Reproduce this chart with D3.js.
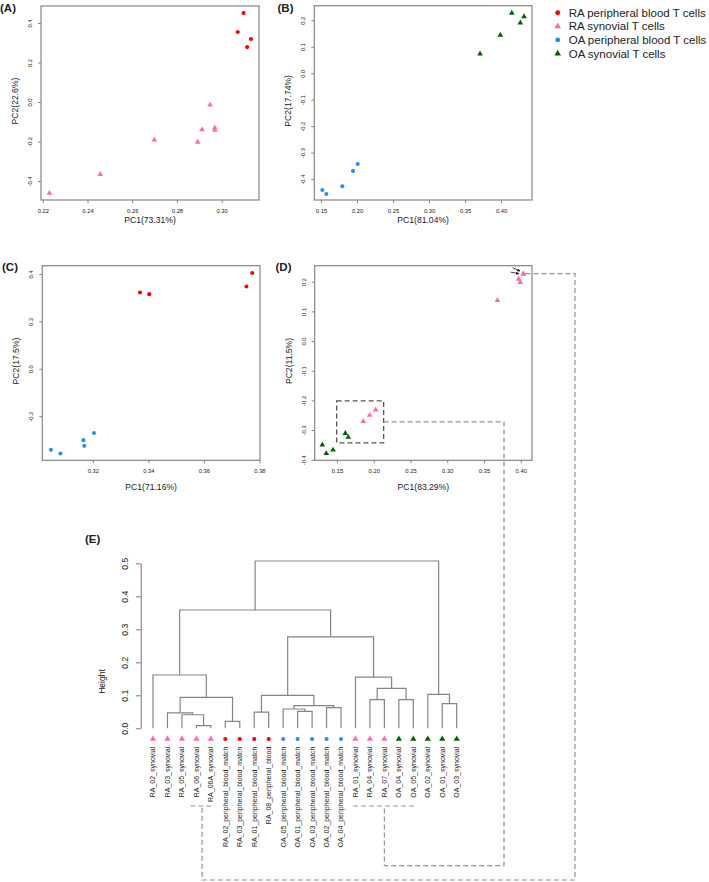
<!DOCTYPE html>
<html><head><meta charset="utf-8">
<script src="https://cdn.jsdelivr.net/npm/d3@7"></script>
<style>
html,body{margin:0;padding:0;background:#fff;}
svg text{font-family:"Liberation Sans",Arial,Helvetica,sans-serif;fill:#222;}
</style></head><body>
<svg id="chart" width="709" height="882"></svg>
<script>
// ---------- groups / legend ----------
const groupLabels = ["RA peripheral blood T cells","RA synovial T cells","OA peripheral blood T cells","OA synovial T cells"];
const groupColors = ["#ff0000","#ff69b4","#1e90ff","#006400"];
const groupShapes = ["circle","triangle","circle","triangle"];

// ---------- panel A ----------
const aPC1 = [0.3098,0.3072,0.3131,0.3114, 0.2230,0.2457,0.2699,0.2893,0.2912,0.2948,0.2969,0.2969];
const aPC2 = [0.451,0.354,0.319,0.278, -0.461,-0.366,-0.191,-0.2025,-0.140,-0.015,-0.130,-0.142];
const aGroup = [0,0,0,0, 1,1,1,1,1,1,1,1];
const aXTicks = [0.22,0.24,0.26,0.28,0.30];
const aYTicks = [-0.4,-0.2,0.0,0.2,0.4];

// ---------- panel B ----------
const bPC1 = [0.1518,0.1574,0.1796,0.1944,0.2010, 0.4149,0.4319,0.4268,0.3990,0.3708];
const bPC2 = [-0.441,-0.456,-0.427,-0.369,-0.343, 0.227,0.214,0.190,0.144,0.073];
const bGroup = [2,2,2,2,2, 3,3,3,3,3];
const bXTicks = [0.15,0.20,0.25,0.30,0.35,0.40];
const bYTicks = [-0.4,-0.3,-0.2,-0.1,0.0,0.1,0.2];

// ---------- panel C ----------
const cPC1 = [0.3370,0.3403,0.3753,0.3774, 0.3049,0.3083,0.3166,0.3169,0.3204];
const cPC2 = [0.322,0.315,0.347,0.404, -0.342,-0.357,-0.301,-0.325,-0.271];
const cGroup = [0,0,0,0, 2,2,2,2,2];
const cXTicks = [0.32,0.34,0.36,0.38];
const cYTicks = [-0.2,0.0,0.2,0.4];

// ---------- panel D ----------
const dPC1 = [0.1300,0.1354,0.1446,0.1613,0.1654, 0.1858,0.1945,0.2027,0.4035,0.4036,0.3970,0.3993,0.3683];
const dPC2 = [-0.350,-0.379,-0.367,-0.311,-0.324, -0.271,-0.250,-0.232,0.227,0.226,0.209,0.198,0.137];
const dGroup = [3,3,3,3,3, 1,1,1,1,1,1,1,1];
const dXTicks = [0.15,0.20,0.25,0.30,0.35,0.40];
const dYTicks = [-0.4,-0.3,-0.2,-0.1,0.0,0.1,0.2];

// ---------- panel E (dendrogram) ----------
const leafLabels = ["RA_02_synovial","RA_03_synovial","RA_05_synovial","RA_06_synovial","RA_06A_synovial",
  "RA_02_peripheral_blood_match","RA_03_peripheral_blood_match","RA_01_peripheral_blood_match","RA_08_peripheral_blood",
  "OA_05_peripheral_blood_match","OA_01_peripheral_blood_match","OA_03_peripheral_blood_match","OA_02_peripheral_blood_match","OA_04_peripheral_blood_match",
  "RA_01_synovial","RA_04_synovial","RA_07_synovial","OA_04_synovial","OA_05_synovial","OA_02_synovial","OA_01_synovial","OA_03_synovial"];
const leafGroups = [1,1,1,1,1, 0,0,0,0, 2,2,2,2,2, 1,1,1, 3,3,3,3,3];
// R hclust style: negative = leaf (1-based, in plotted order), positive = earlier merge (1-based)
const mergePairs = [[-4,-5],[-6,-7],[-3,1],[-2,3],[-8,-9],[-11,-12],[-10,6],[-13,-14],[7,8],[-21,-22],
  [-16,-17],[-18,-19],[4,2],[5,9],[-20,10],[11,12],[-15,16],[-1,13],[14,17],[18,19],[20,15]];
const mergeHeights = [0.008,0.021,0.041,0.047,0.049,0.0515,0.0585,0.0625,0.0685,0.0746,
  0.0867,0.0867,0.094,0.100,0.103,0.121,0.155,0.1615,0.2772,0.3585,0.507];
const heightTicks = [0.0,0.1,0.2,0.3,0.4,0.5];

// ================= drawing =================
const svg = d3.select("#chart");
svg.append("rect").attr("width",709).attr("height",882).attr("fill","#fff");
const defs = svg.append("defs");
defs.append("marker").attr("id","ah").attr("viewBox","0 0 10 10").attr("refX",9).attr("refY",5)
  .attr("markerWidth",4).attr("markerHeight",4).attr("orient","auto")
  .append("path").attr("d","M0,0L10,5L0,10z").attr("fill","#111");

const LINE = "#858585";

function symbolPath(g, size){
  return d3.symbol().type(groupShapes[g]==="circle" ? d3.symbolCircle : d3.symbolTriangle).size(size)();
}

const panels = [
  {tag:"(A)", tagX:0, tagY:11.5, box:{l:41,r:259,t:6,b:200}, xd:[0.2192,0.3167], yd:[-0.496,0.486],
   xt:aXTicks, yt:aYTicks, xf:".2f", yf:".1f", xl:"PC1(73.31%)", yl:"PC2(22.6%)", xlOff:19.5,
   px:aPC1, py:aPC2, pg:aGroup},
  {tag:"(B)", tagX:277.5, tagY:11.5, box:{l:314.3,r:532,t:5.7,b:200}, xd:[0.1407,0.443], yd:[-0.479,0.255],
   xt:bXTicks, yt:bYTicks, xf:".2f", yf:".1f", xl:"PC1(81.04%)", yl:"PC2(17.74%)", xlOff:19.5,
   px:bPC1, py:bPC2, pg:bGroup},
  {tag:"(C)", tagX:2, tagY:271, box:{l:42.3,r:260,t:265.7,b:460.3}, xd:[0.3018,0.3802], yd:[-0.386,0.435],
   xt:cXTicks, yt:cYTicks, xf:".2f", yf:".1f", xl:"PC1(71.16%)", yl:"PC2(17.5%)", xlOff:27,
   px:cPC1, py:cPC2, pg:cGroup},
  {tag:"(D)", tagX:275.5, tagY:271, box:{l:314.7,r:532,t:265.7,b:460.3}, xd:[0.1197,0.4153], yd:[-0.402,0.254],
   xt:dXTicks, yt:dYTicks, xf:".2f", yf:".1f", xl:"PC1(83.29%)", yl:"PC2(11.5%)", xlOff:27,
   px:dPC1, py:dPC2, pg:dGroup}
];

const fmtMinus = f => v => d3.format(f)(v).replace("−","-");

panels.forEach(p => {
  const b = p.box;
  const x = d3.scaleLinear().domain(p.xd).range([b.l,b.r]);
  const y = d3.scaleLinear().domain(p.yd).range([b.b,b.t]);
  p.x = x; p.y = y;
  const g = svg.append("g");
  // box
  g.append("rect").attr("x",b.l).attr("y",b.t).attr("width",b.r-b.l).attr("height",b.b-b.t)
    .attr("fill","none").attr("stroke",LINE).attr("stroke-width",1.2);
  // x axis
  const xa = g.append("g").attr("transform",`translate(0,${b.b})`)
    .call(d3.axisBottom(x).tickValues(p.xt).tickSize(3).tickSizeOuter(0).tickFormat(fmtMinus(p.xf)));
  xa.select(".domain").remove();
  xa.selectAll("line").attr("stroke",LINE);
  xa.selectAll("text").attr("y",11).attr("dy","0.35em").attr("font-size","5.8px").attr("fill","#333");
  // y axis
  const ya = g.append("g").attr("transform",`translate(${b.l},0)`)
    .call(d3.axisLeft(y).tickValues(p.yt).tickSize(3).tickSizeOuter(0).tickFormat(fmtMinus(p.yf)));
  ya.select(".domain").remove();
  ya.selectAll("line").attr("stroke",LINE);
  ya.selectAll("text").attr("x",0).attr("y",-11).attr("dy","0.35em").attr("text-anchor","middle")
    .attr("transform","rotate(-90)").attr("font-size","5.8px").attr("fill","#333");
  // titles
  g.append("text").attr("x",(b.l+b.r)/2).attr("y",b.b+p.xlOff).attr("dy","0.35em")
    .attr("text-anchor","middle").attr("font-size","8.6px").text(p.xl);
  g.append("text").attr("transform",`translate(${b.l-26},${(b.t+b.b)/2-2}) rotate(-90)`)
    .attr("dy","0.35em").attr("text-anchor","middle").attr("font-size","8.6px").text(p.yl);
  g.append("text").attr("x",p.tagX).attr("y",p.tagY).attr("font-size","11.5px").attr("font-weight","bold")
    .attr("fill","#111").text(p.tag);
  // points
  g.selectAll("path.pt").data(p.px.map((v,i)=>({x:v,y:p.py[i],g:p.pg[i]}))).join("path")
    .attr("class","pt")
    .attr("transform",d=>`translate(${x(d.x)},${y(d.y)})`)
    .attr("d",d=>symbolPath(d.g, groupShapes[d.g]==="circle"?13:14))
    .attr("fill",d=>groupColors[d.g]);
});

// legend
const lg = svg.append("g");
groupLabels.forEach((lab,i)=>{
  const yy = 12.7 + i*13.6;
  lg.append("path").attr("transform",`translate(557.7,${yy})`).attr("d",symbolPath(i,19)).attr("fill",groupColors[i]);
  lg.append("text").attr("x",568.7).attr("y",yy).attr("dy","0.35em").attr("font-size","11.5px").attr("fill","#333").text(lab);
});

// ---------- dendrogram ----------
const eX = d3.scalePoint().domain(leafLabels).range([153,456.7]);
const eY = d3.scaleLinear().domain([0,0.5]).range([728.3,563.3]);
const eg = svg.append("g");
const ea = eg.append("g").attr("transform","translate(140.7,0)")
  .call(d3.axisLeft(eY).tickValues(heightTicks).tickSize(4.7).tickSizeOuter(0).tickFormat(d3.format(".1f")));
ea.select(".domain").attr("stroke",LINE).attr("stroke-width",1.1);
ea.selectAll("line").attr("stroke",LINE).attr("stroke-width",1.1);
ea.selectAll("text").attr("x",0).attr("y",-15.7).attr("dy","0.35em").attr("text-anchor","middle")
  .attr("transform","rotate(-90)").attr("font-size","8.6px").attr("fill","#333");
eg.append("text").attr("transform","translate(102,681.5) rotate(-90)").attr("dy","0.35em")
  .attr("text-anchor","middle").attr("font-size","8.5px").text("Height");
eg.append("text").attr("x",85).attr("y",542.5).attr("font-size","11.5px").attr("font-weight","bold").attr("fill","#111").text("(E)");

const nodes = [];
const posOf = k => k<0 ? {x:eX(leafLabels[-k-1]), h:0} : nodes[k-1];
mergePairs.forEach((pr,i)=>{
  const a = posOf(pr[0]), c = posOf(pr[1]), h = mergeHeights[i];
  eg.append("path")
    .attr("d",`M${a.x},${eY(a.h)}V${eY(h)}H${c.x}V${eY(c.h)}`)
    .attr("fill","none").attr("stroke",LINE).attr("stroke-width",1.2);
  nodes.push({x:(a.x+c.x)/2, h});
});
leafLabels.forEach((lab,i)=>{
  const lx = eX(lab);
  eg.append("path").attr("transform",`translate(${lx},739)`)
    .attr("d",symbolPath(leafGroups[i], groupShapes[leafGroups[i]]==="circle"?14:17)).attr("fill",groupColors[leafGroups[i]]);
  eg.append("text").attr("transform",`translate(${lx},746.7) rotate(-90)`).attr("dy","0.35em")
    .attr("text-anchor","end").attr("font-size","7px").attr("fill","#333").text(lab);
});

// ---------- annotations (dashed connectors) ----------
const D = panels[3];
const ann = svg.append("g").attr("fill","none");
const DASH = "5,3", CONN = "#9d918b";
// dashed box around the cluster in D
const bx0 = D.x(0.1496), bx1 = D.x(0.2135), by0 = D.y(-0.202), by1 = D.y(-0.343);
ann.append("rect").attr("x",bx0).attr("y",by0).attr("width",bx1-bx0).attr("height",by1-by0)
  .attr("stroke","#5e514a").attr("stroke-width",1.3).attr("stroke-dasharray",DASH);
const leafX = i => eX(leafLabels[i]);
const bracketY = 806;
// from box to leaves RA_01..OA_05 synovial
const midY = D.y(-0.2725);
ann.append("path").attr("d",`M${bx1},${midY}H504V865.7H${leafX(16)}V${bracketY}`)
  .attr("stroke",CONN).attr("stroke-width",1.2).attr("stroke-dasharray",DASH);
ann.append("path").attr("d",`M${leafX(14)-2.5},${bracketY}H${leafX(18)+2}`)
  .attr("stroke",CONN).attr("stroke-width",1.2).attr("stroke-dasharray",DASH);
// from overlapping top-right points to RA_06 / RA_06A
const tx = D.x(0.4035), ty = D.y(0.227);
const midLeaf = (leafX(3)+leafX(4))/2 - 1.5;
ann.append("path").attr("d",`M${tx+2},${ty}H575V880H${midLeaf}V${bracketY}`)
  .attr("stroke",CONN).attr("stroke-width",1.2).attr("stroke-dasharray",DASH);
ann.append("path").attr("d",`M${leafX(3)-6},${bracketY}H${leafX(4)+2.2}`)
  .attr("stroke",CONN).attr("stroke-width",1.2).attr("stroke-dasharray",DASH);
// two small arrows pointing at the overlapping points
[[-10.6,-6,-3.3,-2.6],[-12.6,-1.6,-4.3,0]].forEach(o=>{
  svg.append("line").attr("x1",tx+o[0]).attr("y1",ty+o[1]).attr("x2",tx+o[2]).attr("y2",ty+o[3])
    .attr("stroke","#111").attr("stroke-width",0.8).attr("marker-end","url(#ah)");
});
</script>
</body></html>
